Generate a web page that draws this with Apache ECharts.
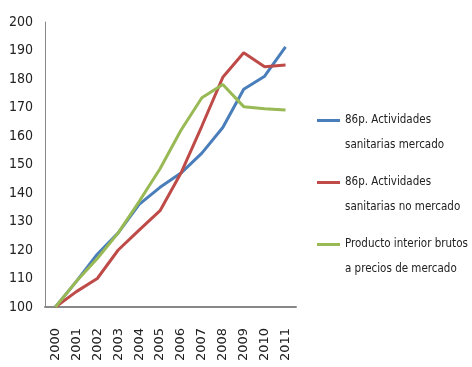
<!DOCTYPE html>
<html>
<head>
<meta charset="utf-8">
<script src="https://cdn.jsdelivr.net/npm/echarts@6/dist/echarts.min.js"></script>
<style>
  html, body { margin: 0; padding: 0; background: #fff; }
  #chart { width: 472px; height: 367px; }
</style>
</head>
<body>
<div id="chart"></div>
<script>
const years = ['2000','2001','2002','2003','2004','2005','2006','2007','2008','2009','2010','2011'];
const sanitariasMercado = [100, 109, 118.5, 126, 136, 142, 147, 154, 163, 176.4, 181, 191.3];
const sanitariasNoMercado = [100, 105.4, 110, 120, 127, 133.8, 147, 163.5, 180.6, 189.2, 184.3, 184.9];
const pib = [100, 109, 117, 126, 137, 148.5, 162, 173.4, 178.1, 170.3, 169.6, 169.1];
const seriesNames = ['86p. Actividades sanitarias mercado', '86p. Actividades sanitarias no mercado', 'Producto interior brutos a precios de mercado'];
// blank first line keeps the legend icon level with the first text line
const legendLines = {
    '86p. Actividades sanitarias mercado': '\n86p. Actividades\nsanitarias mercado',
    '86p. Actividades sanitarias no mercado': '\n86p. Actividades\nsanitarias no mercado',
    'Producto interior brutos a precios de mercado': '\nProducto interior brutos\na precios de mercado'
};
const colors = ['#4A7EBB', '#BE4B48', '#98B954'];

const chart = echarts.init(document.getElementById('chart'));
const narrow = '"DejaVu Sans Condensed", "Liberation Sans Narrow", sans-serif';

chart.setOption({
    animation: false,
    grid: { left: 45, right: 176, top: 22, bottom: 60 },
    legend: {
        orient: 'vertical', left: 312, top: 78,
        icon: 'rect', itemWidth: 23, itemHeight: 3, itemGap: -13,
        textStyle: { fontFamily: narrow, fontSize: 11.5, color: '#222', lineHeight: 25 },
        formatter: name => legendLines[name],
        data: seriesNames
    },
    xAxis: {
        type: 'category', data: years, boundaryGap: true,
        axisLine: { lineStyle: { color: '#888', width: 2 } },
        axisTick: { show: false },
        axisLabel: { rotate: 90, margin: 21, fontFamily: 'DejaVu Sans', fontSize: 13, color: '#222', interval: 0 }
    },
    yAxis: {
        type: 'value', min: 100, max: 200, interval: 10,
        axisLine: { show: true, lineStyle: { color: '#888', width: 1 } },
        axisTick: { show: false },
        splitLine: { show: false },
        axisLabel: { margin: 12, fontFamily: narrow, fontSize: 14, color: '#222' }
    },
    series: [
        { name: seriesNames[0], type: 'line', data: sanitariasMercado, symbol: 'none', lineStyle: { width: 3, color: colors[0] }, itemStyle: { color: colors[0] } },
        { name: seriesNames[1], type: 'line', data: sanitariasNoMercado, symbol: 'none', lineStyle: { width: 3, color: colors[1] }, itemStyle: { color: colors[1] } },
        { name: seriesNames[2], type: 'line', data: pib, symbol: 'none', lineStyle: { width: 3, color: colors[2] }, itemStyle: { color: colors[2] } }
    ]
});
</script>
</body>
</html>
